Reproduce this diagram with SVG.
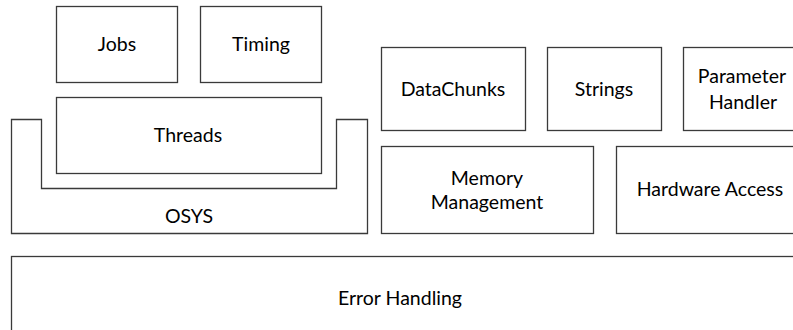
<svg xmlns="http://www.w3.org/2000/svg" width="793" height="330" viewBox="0 0 793 330">
  <style>
    .box { fill: #ffffff; stroke: #3a3a3a; stroke-width: 1.3; }
    .lbl { font-family: Lato, "Open Sans", "Liberation Sans", sans-serif; font-size: 19.5px; fill: #000000; text-anchor: middle; }
  </style>
  <rect x="0" y="0" width="793" height="330" fill="#ffffff"/>

  <g id="jobs">
    <rect class="box" x="56.5" y="6.5" width="121" height="76"/>
    <text class="lbl" x="117" y="51">Jobs</text>
  </g>
  <g id="timing">
    <rect class="box" x="200.5" y="6.5" width="121" height="76"/>
    <text class="lbl" x="261" y="51">Timing</text>
  </g>
  <g id="threads">
    <rect class="box" x="56.5" y="97.5" width="265" height="76"/>
    <text class="lbl" x="188" y="142">Threads</text>
  </g>
  <g id="osys">
    <path class="box" d="M11.5 119.5 H41.5 V188.5 H336.5 V119.5 H367.5 V233.5 H11.5 Z"/>
    <text class="lbl" x="189" y="223">OSYS</text>
  </g>
  <g id="datachunks">
    <rect class="box" x="381.5" y="47.5" width="144" height="83"/>
    <text class="lbl" x="453" y="96">DataChunks</text>
  </g>
  <g id="strings">
    <rect class="box" x="547.5" y="47.5" width="114" height="83"/>
    <text class="lbl" x="604" y="96">Strings</text>
  </g>
  <g id="parameter-handler">
    <rect class="box" x="683.5" y="47.5" width="120" height="83"/>
    <text class="lbl" x="742" y="83">Parameter</text>
    <text class="lbl" x="743" y="109">Handler</text>
  </g>
  <g id="memory-management">
    <rect class="box" x="381.5" y="146.5" width="212" height="87"/>
    <text class="lbl" x="487" y="185">Memory</text>
    <text class="lbl" x="487" y="209">Management</text>
  </g>
  <g id="hardware-access">
    <rect class="box" x="616.5" y="146.5" width="190" height="87"/>
    <text class="lbl" x="710" y="196">Hardware Access</text>
  </g>
  <g id="error-handling">
    <rect class="box" x="11.5" y="256.5" width="800" height="90"/>
    <text class="lbl" x="400" y="305">Error Handling</text>
  </g>
  <g id="connectors"/>
</svg>
